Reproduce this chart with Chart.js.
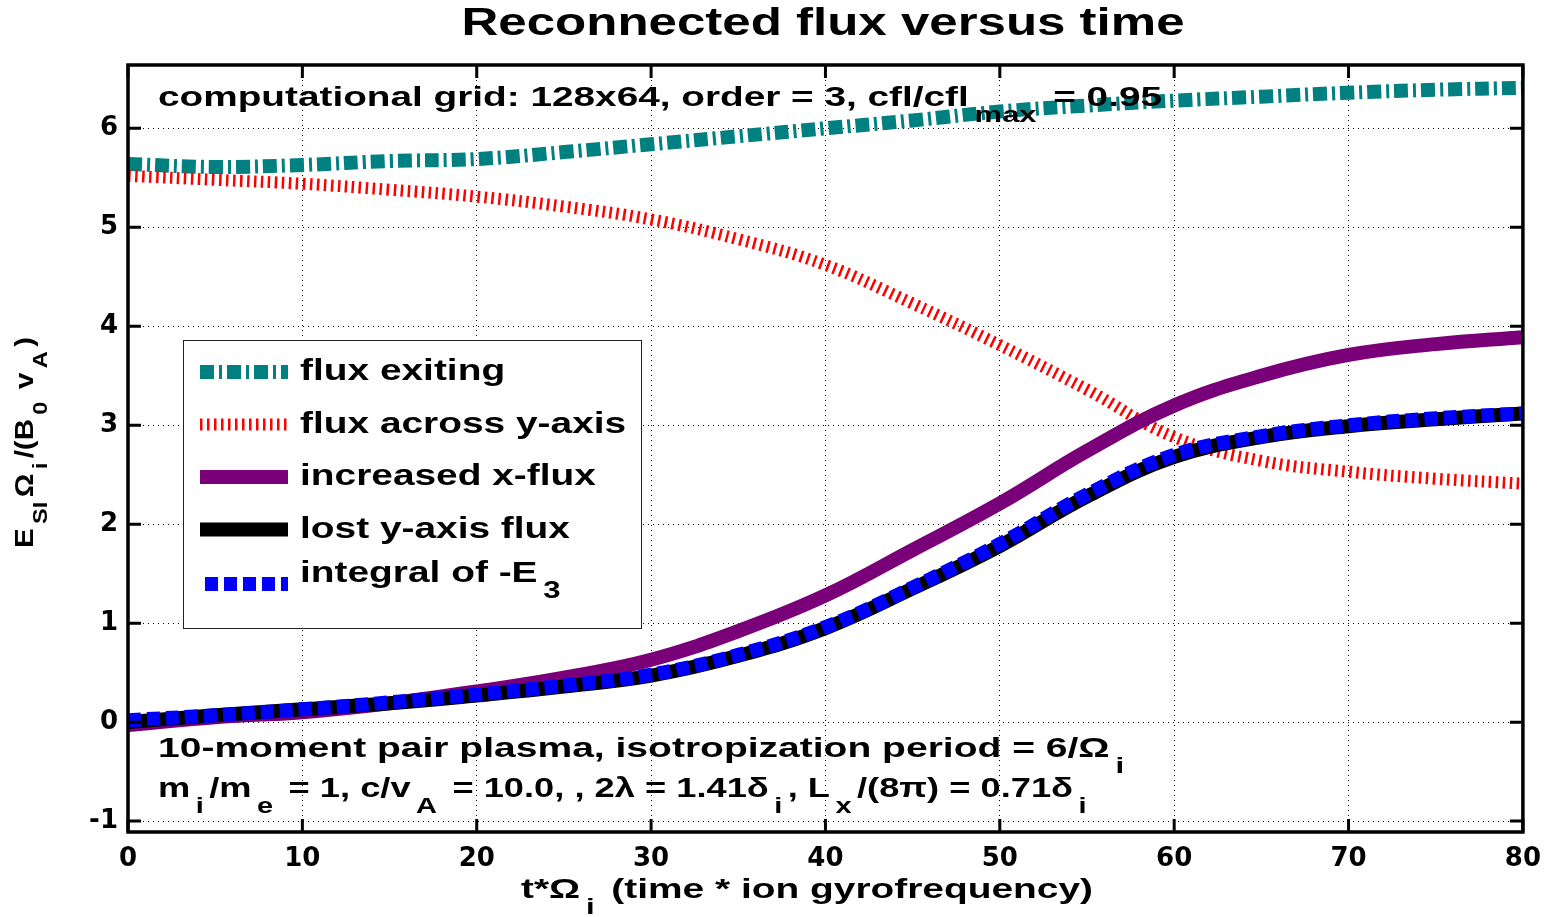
<!DOCTYPE html>
<html>
<head>
<meta charset="utf-8">
<title>Reconnected flux versus time</title>
<script src="https://cdn.jsdelivr.net/npm/chart.js@4.4.1/dist/chart.umd.min.js"></script>
<style>
  body { margin: 0; background: #fff; }
  canvas { display: block; }
</style>
</head>
<body>
<canvas id="chart" width="1553" height="917"></canvas>
<script>
const times = [0, 5, 10, 15, 20, 25, 30, 35, 40, 45, 50, 55, 60, 65, 70, 75, 80];
const fluxExiting = [5.64, 5.61, 5.63, 5.67, 5.69, 5.76, 5.84, 5.92, 6.00, 6.08, 6.17, 6.23, 6.28, 6.32, 6.36, 6.39, 6.41];
const fluxAcross = [5.52, 5.48, 5.44, 5.38, 5.31, 5.21, 5.08, 4.88, 4.62, 4.23, 3.81, 3.36, 2.88, 2.64, 2.53, 2.46, 2.41];
const increasedX = [-0.03, 0.05, 0.10, 0.19, 0.31, 0.45, 0.63, 0.92, 1.28, 1.74, 2.21, 2.74, 3.20, 3.50, 3.71, 3.82, 3.89];
const lostY = [0.00, 0.07, 0.13, 0.19, 0.27, 0.36, 0.47, 0.67, 0.95, 1.35, 1.78, 2.28, 2.68, 2.88, 2.99, 3.06, 3.12];
const integralE3 = [0.02, 0.07, 0.13, 0.20, 0.28, 0.37, 0.48, 0.68, 0.96, 1.36, 1.80, 2.30, 2.70, 2.89, 3.00, 3.07, 3.12];

const seriesLabels = ['flux exiting', 'flux across y-axis', 'increased x-flux', 'lost y-axis flux', 'integral of -E_3'];
const xTicks = [0, 10, 20, 30, 40, 50, 60, 70, 80];
const yTicks = [-1, 0, 1, 2, 3, 4, 5, 6];

const titleText = 'Reconnected flux versus time';
const xLabel = 't*Ω_i (time * ion gyrofrequency)';
const yLabel = 'E_{SI}Ω_i/(B_0 v_A)';
const topNote = 'computational grid: 128x64, order = 3, cfl/cfl_{max} = 0.95';
const bottomNote1 = '10-moment pair plasma, isotropization period = 6/Ω_i';
const bottomNote2 = 'm_i/m_e = 1, c/v_A = 10.0, , 2λ = 1.41δ_i, L_x/(8π) = 0.71δ_i';

const STRETCH = 1.34;
const FONT = '"Liberation Sans", Arial, sans-serif';

function pts(values) {
    return times.map((t, i) => ({ x: t, y: values[i] }));
}

function parseTex(s) {
    const segs = [];
    const re = /_(\{[^}]*\}|.)/g;
    let last = 0;
    let m;
    while ((m = re.exec(s))) {
        if (m.index > last) segs.push({ t: s.slice(last, m.index) });
        let t = m[1];
        if (t[0] === '{') t = t.slice(1, -1);
        segs.push({ t: t, sub: true });
        last = re.lastIndex;
    }
    if (last < s.length) segs.push({ t: s.slice(last) });
    return segs;
}

function segWidth(ctx, seg, size) {
    const fs = seg.sub ? size * 0.8 : size;
    ctx.font = 'bold ' + fs + 'px ' + FONT;
    return ctx.measureText(seg.t).width + (seg.sub ? size * 0.3 : 0);
}

// draws text with _sub parts; opts.width fits the length, otherwise a fixed stretch
function drawTex(ctx, str, x, y, size, opts) {
    opts = opts || {};
    const segs = parseTex(str);
    let w = 0;
    segs.forEach(s => { w += segWidth(ctx, s, size); });
    const along = opts.width ? opts.width / w : STRETCH;
    ctx.save();
    ctx.translate(x, y);
    if (opts.rotate) {
        ctx.rotate(-Math.PI / 2);
        ctx.scale(along, STRETCH);
    } else {
        ctx.scale(along, 1);
    }
    ctx.fillStyle = '#000';
    ctx.textBaseline = 'middle';
    ctx.textAlign = 'left';
    let cx = opts.center ? -w / 2 : 0;
    segs.forEach(s => {
        const sw = segWidth(ctx, s, size);
        if (s.sub) {
            ctx.fillText(s.t, cx + size * 0.15, size * 0.62);
        } else {
            ctx.fillText(s.t, cx, 0);
        }
        cx += sw;
    });
    ctx.restore();
}

const textPlugin = {
    id: 'texts',
    afterDatasetsDraw(chart) {
        const ctx = chart.ctx;
        drawTex(ctx, topNote, 158, 99, 27, { width: 1004 });
        drawTex(ctx, bottomNote1, 158, 750, 27, { width: 972 });
        drawTex(ctx, bottomNote2, 158, 790, 27, { width: 934 });

        // legend box
        const bx = 183, by = 340, bw = 458, bh = 288;
        ctx.save();
        ctx.fillStyle = '#fff';
        ctx.fillRect(bx, by, bw, bh);
        ctx.strokeStyle = '#222';
        ctx.lineWidth = 1;
        ctx.strokeRect(bx + 0.5, by + 0.5, bw, bh);
        chart.data.datasets.forEach((ds, i) => {
            const hasSub = ds.label.indexOf('_') >= 0;
            const rowY = 372 + i * 52.5;
            const lineY = hasSub ? rowY + 2 : rowY;
            ctx.save();
            ctx.beginPath();
            ctx.strokeStyle = ds.borderColor;
            ctx.lineWidth = ds.borderWidth;
            ctx.setLineDash(ds.borderDash || []);
            ctx.lineCap = 'butt';
            ctx.moveTo(hasSub ? 205 : 200, lineY);
            ctx.lineTo(288, lineY);
            ctx.stroke();
            ctx.restore();
            drawTex(ctx, ds.label, 300, hasSub ? rowY - 8 : rowY, 29);
        });
        ctx.restore();
    },
    afterDraw(chart) {
        const ctx = chart.ctx;
        const a = chart.chartArea;
        const xs = chart.scales.x, ys = chart.scales.y;
        drawTex(ctx, titleText, 823, 25, 38, { center: true, width: 723 });
        drawTex(ctx, xLabel, 521, 891, 27, { width: 572 });
        drawTex(ctx, yLabel, 26, 548, 19, { rotate: true, width: 211 });

        ctx.save();
        ctx.strokeStyle = '#000';
        ctx.lineWidth = 3;
        ctx.beginPath();
        xTicks.forEach(v => {
            const px = xs.getPixelForValue(v);
            ctx.moveTo(px, a.bottom);
            ctx.lineTo(px, a.bottom - 13);
            ctx.moveTo(px, a.top);
            ctx.lineTo(px, a.top + 13);
        });
        yTicks.forEach(v => {
            const py = ys.getPixelForValue(v);
            ctx.moveTo(a.left, py);
            ctx.lineTo(a.left + 13, py);
            ctx.moveTo(a.right, py);
            ctx.lineTo(a.right - 13, py);
        });
        ctx.stroke();
        ctx.lineWidth = 3.5;
        ctx.strokeRect(a.left, a.top, a.right - a.left, a.bottom - a.top);
        ctx.restore();
    }
};

const tickFont = { family: '"DejaVu Sans", sans-serif', size: 26, weight: 'bold' };

new Chart(document.getElementById('chart'), {
    type: 'line',
    data: {
        datasets: [
            {
                label: seriesLabels[0],
                data: pts(fluxExiting),
                borderColor: '#008080',
                borderWidth: 14,
                borderDash: [14, 5, 3, 5],
                order: 4
            },
            {
                label: seriesLabels[1],
                data: pts(fluxAcross),
                borderColor: '#ff0000',
                borderWidth: 12,
                borderDash: [2.5, 4.5],
                order: 3
            },
            {
                label: seriesLabels[2],
                data: pts(increasedX),
                borderColor: '#7a007a',
                borderWidth: 14,
                order: 2
            },
            {
                label: seriesLabels[3],
                data: pts(lostY),
                borderColor: '#000000',
                borderWidth: 14,
                order: 1
            },
            {
                label: seriesLabels[4],
                data: pts(integralE3),
                borderColor: '#0000ff',
                borderWidth: 14,
                borderDash: [13, 6],
                order: 0
            }
        ]
    },
    options: {
        responsive: false,
        animation: false,
        devicePixelRatio: 1,
        layout: { padding: { left: 0, right: 27, top: 65, bottom: 0 } },
        elements: {
            point: { radius: 0 },
            line: { tension: 0.4, borderCapStyle: 'butt', fill: false }
        },
        plugins: {
            legend: { display: false },
            title: { display: false },
            tooltip: { enabled: false }
        },
        scales: {
            x: {
                type: 'linear',
                min: 0,
                max: 80,
                afterBuildTicks: s => { s.ticks = xTicks.map(v => ({ value: v })); },
                afterFit: s => { s.height = 85; },
                ticks: { font: tickFont, color: '#000', padding: 12, maxRotation: 0 },
                grid: { color: '#000', lineWidth: 1, drawTicks: false },
                border: { display: false, dash: [1, 4] }
            },
            y: {
                type: 'linear',
                min: -1.11,
                max: 6.64,
                afterBuildTicks: s => { s.ticks = yTicks.map(v => ({ value: v })); },
                afterFit: s => { s.width = 128; },
                ticks: { font: tickFont, color: '#000', padding: 10 },
                grid: { color: '#000', lineWidth: 1, drawTicks: false },
                border: { display: false, dash: [1, 4] }
            }
        }
    },
    plugins: [textPlugin]
});
</script>
</body>
</html>
